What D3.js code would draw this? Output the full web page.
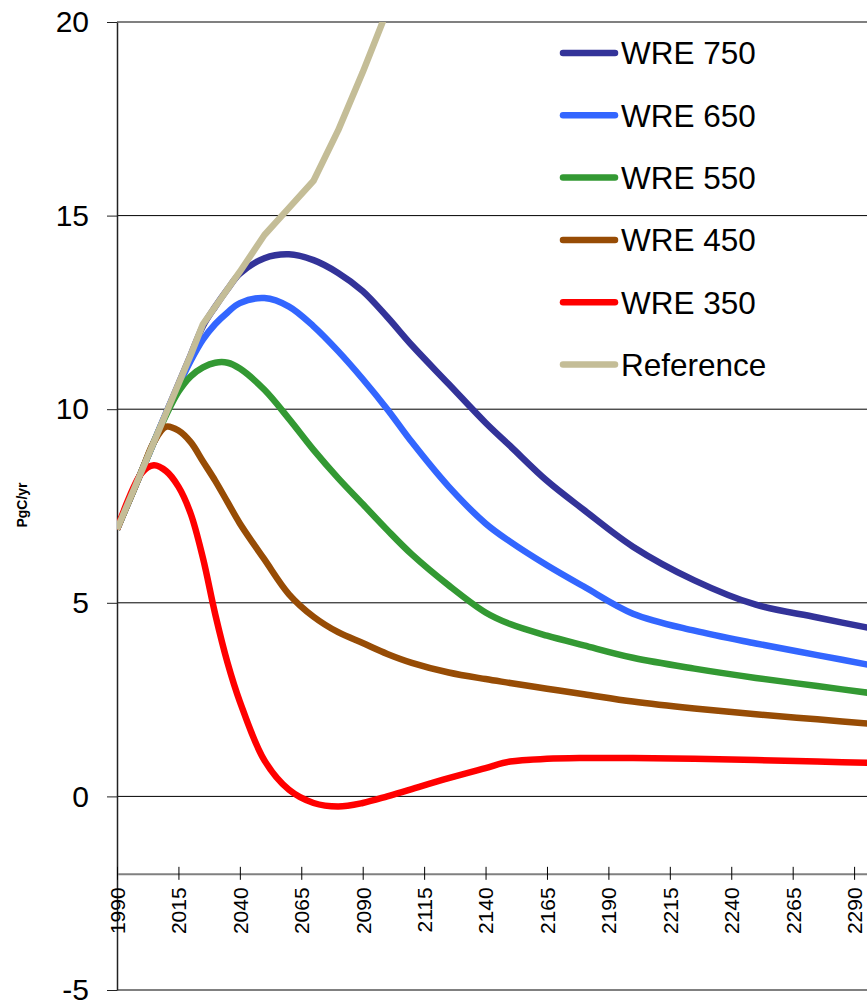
<!DOCTYPE html>
<html>
<head>
<meta charset="utf-8">
<script src="https://cdn.jsdelivr.net/npm/d3@7"></script>
<style>
  body { margin: 0; background: #fff; }
  svg { display: block; font-family: Arial, "Liberation Sans", sans-serif; }
</style>
</head>
<body>
<div id="chart"></div>
<script>
// values (PgC/yr)
const years = [1990, 2000, 2005, 2010, 2015, 2020, 2025, 2030, 2035, 2040, 2050, 2060, 2070, 2080, 2090,
               2100, 2110, 2125, 2140, 2150, 2165, 2180, 2200, 2225, 2250, 2275, 2300];

const wre750 = [6.9, 8.4, 9.15, 9.9, 10.65, 11.4, 12.15, 12.65, 13.1, 13.5, 13.9, 14.0, 13.85, 13.52, 13.05,
                12.38, 11.65, 10.65, 9.65, 9.05, 8.15, 7.4, 6.45, 5.58, 4.95, 4.62, 4.3];
const wre650 = [6.9, 8.4, 9.15, 9.9, 10.6, 11.25, 11.8, 12.2, 12.5, 12.74, 12.87, 12.65, 12.14, 11.5, 10.78,
                10.0, 9.15, 8.0, 7.05, 6.58, 5.97, 5.42, 4.72, 4.28, 3.95, 3.65, 3.35];
const wre550 = [6.9, 8.4, 9.15, 9.85, 10.45, 10.85, 11.08, 11.2, 11.2, 11.05, 10.5, 9.75, 8.95, 8.22, 7.55,
                6.88, 6.25, 5.45, 4.75, 4.45, 4.15, 3.9, 3.58, 3.3, 3.06, 2.85, 2.64];
const wre450 = [6.9, 8.4, 9.15, 9.55, 9.45, 9.15, 8.65, 8.15, 7.6, 7.05, 6.12, 5.22, 4.64, 4.24, 3.96,
                3.68, 3.45, 3.2, 3.03, 2.93, 2.78, 2.64, 2.45, 2.27, 2.12, 1.99, 1.86];
const wre350 = [6.9, 8.35, 8.55, 8.4, 8.0, 7.3, 6.15, 4.7, 3.45, 2.45, 0.93, 0.17, -0.17, -0.26, -0.17,
                0.0, 0.19, 0.47, 0.73, 0.9, 0.97, 0.99, 0.99, 0.97, 0.94, 0.9, 0.86];
const reference = [6.9, 8.4, 9.15, 9.9, 10.65, 11.4, 12.2, 12.65, 13.1, 13.55, 14.5, 15.2, 15.9, 17.2, 18.7,
                   20.3, null, null, null, null, null, null, null, null, null, null, null];

const seriesNames = ['WRE 750', 'WRE 650', 'WRE 550', 'WRE 450', 'WRE 350', 'Reference'];
const seriesColors = ['#333399', '#3366FF', '#339933', '#974C05', '#FF0000', '#C4BD97'];
const yTicks = [-5, 0, 5, 10, 15, 20];
const xTicks = d3.range(1990, 2291, 25);

const series = [wre750, wre650, wre550, wre450, wre350, reference].map((vals, i) => ({
    name: seriesNames[i],
    color: seriesColors[i],
    points: years.map((yr, j) => ({ year: yr, value: vals[j] }))
}));

const width = 867, height = 1002;

const svg = d3.select('#chart')
    .append('svg')
    .attr('width', width)
    .attr('height', height);

const x = d3.scaleLinear()
    .domain([1990, 2300])
    .range([117, 117 + 310 * 2.457]);

const y = d3.scaleLinear()
    .domain([-5, 20])
    .range([990, 22]);

// gridlines
svg.append('g')
    .selectAll('line')
    .data(yTicks)
    .enter()
    .append('line')
    .attr('x1', 117)
    .attr('x2', width)
    .attr('y1', d => y(d))
    .attr('y2', d => y(d))
    .attr('stroke', d => (d === 20 || d === -5) ? '#808080' : '#000')
    .attr('stroke-width', d => (d === 20 || d === -5) ? 2 : 1);

// y axis
const yAxis = svg.append('g')
    .attr('transform', 'translate(117,0)')
    .call(d3.axisLeft(y).tickValues(yTicks).tickFormat(d => String(d))
        .tickSize(10).tickSizeOuter(0).tickPadding(18));
yAxis.select('.domain').attr('stroke', '#222').attr('stroke-width', 1.5);
yAxis.selectAll('.tick line').attr('stroke', '#222');
yAxis.selectAll('text')
    .attr('font-size', '30px')
    .attr('font-family', 'Arial, "Liberation Sans", sans-serif')
    .attr('fill', '#000');

// x axis, crossing at -2
const xAxis = svg.append('g')
    .attr('transform', `translate(0,${y(-2)})`)
    .call(d3.axisBottom(x).tickValues(xTicks).tickFormat(d3.format('d')).tickSizeOuter(0));
xAxis.select('.domain').attr('stroke', '#808080').attr('stroke-width', 2);
xAxis.selectAll('.tick line').attr('y1', -7).attr('y2', 6).attr('stroke', '#000');
xAxis.selectAll('text')
    .attr('transform', 'rotate(-90)')
    .attr('x', -13.5)
    .attr('y', 0)
    .attr('dy', '0.35em')
    .style('text-anchor', 'end')
    .attr('font-size', '21px')
    .attr('font-family', 'Arial, "Liberation Sans", sans-serif')
    .attr('fill', '#000');

// y label
svg.append('text')
    .attr('transform', 'translate(27,505) rotate(-90)')
    .attr('text-anchor', 'middle')
    .attr('font-size', '14px')
    .attr('font-weight', 'bold')
    .text('PgC/yr');

// lines
svg.append('clipPath')
    .attr('id', 'plotClip')
    .append('rect')
    .attr('x', 117)
    .attr('y', 22)
    .attr('width', 800)
    .attr('height', 968);

const smoothLine = d3.line()
    .defined(d => d.value !== null)
    .x(d => x(d.year))
    .y(d => y(d.value))
    .curve(d3.curveCatmullRom.alpha(0.5));

const straightLine = d3.line()
    .defined(d => d.value !== null)
    .x(d => x(d.year))
    .y(d => y(d.value));

svg.append('g')
    .attr('clip-path', 'url(#plotClip)')
    .selectAll('path')
    .data(series)
    .enter()
    .append('path')
    .attr('d', d => d.name === 'Reference' ? straightLine(d.points) : smoothLine(d.points))
    .attr('fill', 'none')
    .attr('stroke', d => d.color)
    .attr('stroke-width', 6.5)
    .attr('stroke-linejoin', 'round');

// legend
const legend = svg.append('g')
    .selectAll('g')
    .data(series)
    .enter()
    .append('g')
    .attr('transform', (d, i) => `translate(0,${53 + i * 62.3})`);

legend.append('line')
    .attr('x1', 563)
    .attr('x2', 615)
    .attr('stroke', d => d.color)
    .attr('stroke-width', 6.5)
    .attr('stroke-linecap', 'round');

legend.append('text')
    .attr('x', 621)
    .attr('dy', '0.36em')
    .attr('font-size', '31.5px')
    .text(d => d.name);
</script>
</body>
</html>
